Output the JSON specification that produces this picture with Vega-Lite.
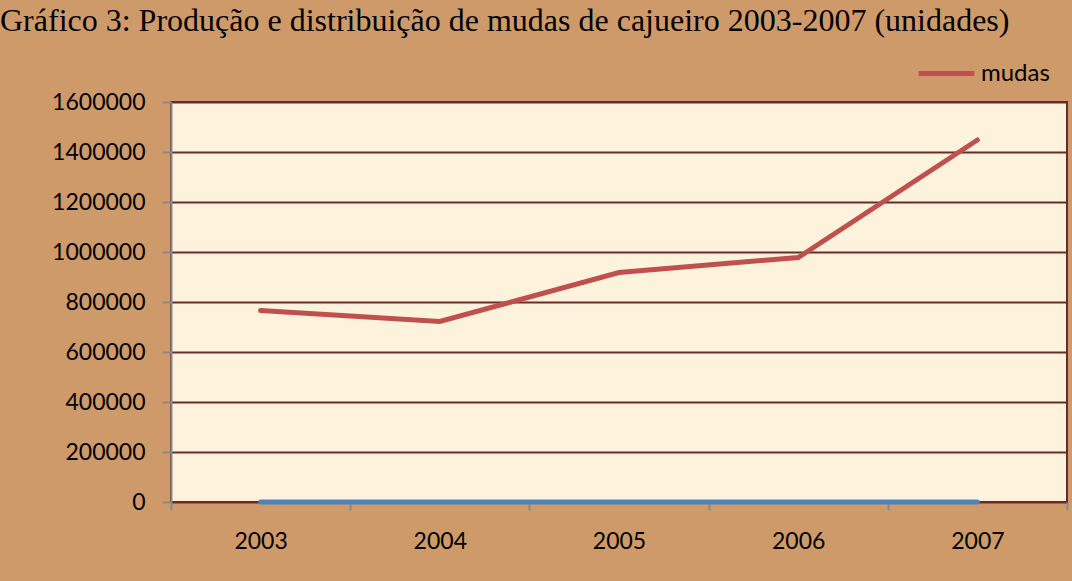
{
  "$schema": "https://vega.github.io/schema/vega-lite/v6.json",
  "autosize": {"type": "none"},
  "padding": {"left": 171, "top": 102, "right": 5, "bottom": 79},
  "width": 896,
  "height": 400,
  "background": "#cf9a6a",
  "title": {
    "text": "Gráfico 3: Produção e distribuição de mudas de cajueiro 2003-2007 (unidades)",
    "anchor": "start",
    "frame": "group",
    "orient": "top",
    "dx": -171,
    "offset": 5,
    "baseline": "top",
    "font": "Liberation Serif",
    "fontSize": 32,
    "fontWeight": "normal",
    "color": "#000000"
  },
  "data": {
    "values": [
      {"ano": "2003", "mudas": 766000, "serie1": 0},
      {"ano": "2004", "mudas": 722000, "serie1": 0},
      {"ano": "2005", "mudas": 918000, "serie1": 0},
      {"ano": "2006", "mudas": 978000, "serie1": 0},
      {"ano": "2007", "mudas": 1448000, "serie1": 0}
    ]
  },
  "encoding": {
    "x": {
      "field": "ano",
      "type": "ordinal",
      "bandPosition": 0.5,
      "scale": {"type": "band", "paddingInner": 0, "paddingOuter": 0},
      "axis": {
        "title": null,
        "labelAngle": 0,
        "tickBand": "extent",
        "grid": false,
        "domain": false,
        "ticks": true,
        "tickColor": "#8a8a8a",
        "tickWidth": 2,
        "tickSize": 8,
        "labelFont": "Lato",
        "labelFontSize": 23,
        "labelColor": "#000000",
        "labelPadding": 20
      }
    }
  },
  "layer": [
    {
      "mark": {"type": "line", "color": "#4f81bd", "strokeWidth": 5, "strokeCap": "round"},
      "encoding": {
        "y": {
          "field": "serie1",
          "type": "quantitative",
          "scale": {"domain": [0, 1600000]},
          "axis": {
            "title": null,
            "values": [0, 200000, 400000, 600000, 800000, 1000000, 1200000, 1400000, 1600000],
            "format": "d",
            "grid": true,
            "gridColor": "#6b2b2b",
            "gridWidth": 2,
            "gridOpacity": 1,
            "domain": true,
            "domainColor": "#8a8a8a",
            "domainWidth": 2,
            "tickColor": "#8a8a8a",
            "tickWidth": 2,
            "tickSize": 9,
            "labelFont": "Lato",
            "labelFontSize": 23,
            "labelColor": "#000000",
            "labelPadding": 17
          }
        }
      }
    },
    {
      "mark": {"type": "line", "strokeWidth": 5, "strokeCap": "round"},
      "encoding": {
        "y": {"field": "mudas", "type": "quantitative"},
        "color": {
          "datum": "mudas",
          "scale": {"range": ["#c0504d"]},
          "legend": {
            "title": null,
            "orient": "none",
            "legendX": 745,
            "legendY": -59,
            "symbolType": "stroke",
            "symbolStrokeWidth": 5,
            "symbolSize": 3100,
            "labelFont": "Lato",
            "labelFontSize": 24,
            "labelColor": "#000000",
            "labelOffset": 4
          }
        }
      }
    }
  ],
  "config": {
    "view": {"fill": "#fdf2dc", "stroke": "#6b2b2b", "strokeWidth": 2}
  }
}
